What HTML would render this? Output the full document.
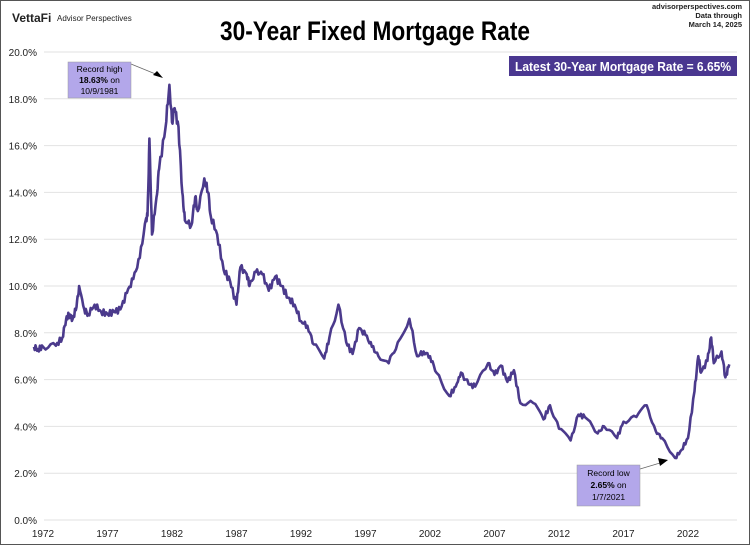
<!DOCTYPE html>
<html><head><meta charset="utf-8"><style>
body{margin:0;width:750px;height:545px;overflow:hidden;background:#fff;font-family:"Liberation Sans",Arial,sans-serif}
#f{position:absolute;left:0;top:0;width:748px;height:543px;border:1px solid #555}
</style></head><body><div id="f"></div>
<svg id="s" width="750" height="545" style="position:absolute;left:0;top:0" font-family="Liberation Sans, Arial, sans-serif">
<text x="12" y="22" font-size="12" font-weight="bold" fill="#222">VettaFi</text>
<text x="57" y="21" font-size="8" fill="#222">Advisor Perspectives</text>
<text x="220" y="40" font-size="27" font-weight="bold" textLength="310" lengthAdjust="spacingAndGlyphs" fill="#000">30-Year Fixed Mortgage Rate</text>
<text x="742" y="9" font-size="7.5" font-weight="bold" text-anchor="end" fill="#222">advisorperspectives.com</text>
<text x="742" y="18" font-size="7.5" font-weight="bold" text-anchor="end" fill="#222">Data through</text>
<text x="742" y="27" font-size="7.5" font-weight="bold" text-anchor="end" fill="#222">March 14, 2025</text>
<g id="grid"></g>
<rect x="509" y="56" width="228" height="20" fill="#4a3790"/>
<text x="515" y="71" font-size="12.5" font-weight="bold" fill="#fff" textLength="216" lengthAdjust="spacingAndGlyphs">Latest 30-Year Mortgage Rate = 6.65%</text>
<path id="ln" fill="none" stroke="#4b3a8c" stroke-width="2.6" stroke-linejoin="round"/>
<line x1="131" y1="64" x2="158" y2="75" stroke="#666" stroke-width="0.7"/>
<polygon points="163,78 153,75 157,71" fill="#000"/>
<rect x="68" y="62" width="63" height="36" fill="#b3a7ea" stroke="#999" stroke-width="0.5"/>
<text x="99.5" y="72" font-size="8.5" text-anchor="middle">Record high</text>
<text x="99.5" y="83" font-size="8.5" text-anchor="middle"><tspan font-weight="bold">18.63%</tspan> on</text>
<text x="99.5" y="94" font-size="8.5" text-anchor="middle">10/9/1981</text>
<line x1="640" y1="469" x2="660" y2="463" stroke="#666" stroke-width="0.7"/>
<polygon points="668,460 658,458 660,466" fill="#000"/>
<rect x="577" y="465" width="63" height="41" fill="#b3a7ea" stroke="#999" stroke-width="0.5"/>
<text x="608.5" y="476" font-size="8.5" text-anchor="middle">Record low</text>
<text x="608.5" y="488" font-size="8.5" text-anchor="middle"><tspan font-weight="bold">2.65%</tspan> on</text>
<text x="608.5" y="500" font-size="8.5" text-anchor="middle">1/7/2021</text>
</svg>
<script>
var X=y=>43+(y-1972)*12.9,Y=v=>520-23.4*v;
var g='';
for(var i=0;i<=10;i++){var yy=Y(i*2);g+='<line x1="44" x2="737" y1="'+yy+'" y2="'+yy+'" stroke="#e2e2e2" stroke-width="1"/>';
g+='<text x="37" y="'+(yy+4)+'" font-size="10" text-anchor="end" fill="#222">'+(i*2).toFixed(1)+'%</text>';}
for(var k=0;k<=10;k++){var yr=1972+5*k;g+='<text x="'+X(yr)+'" y="537" font-size="10" text-anchor="middle" fill="#222">'+yr+'</text>';}
document.getElementById('grid').innerHTML=g;
var d=[[1971.3,7.4],[1971.6,7.3],[1972,7.4],[1973,7.45],[1973.5,7.8],[1973.8,8.6],[1974,8.8],[1974.3,8.6],[1974.6,9.1],[1974.8,10],[1975.2,9.0],[1975.5,8.8],[1976,9.2],[1976.5,8.9],[1977,8.8],[1977.5,8.9],[1978,9.0],[1978.5,9.7],[1979,10.3],[1979.5,11.2],[1980,12.9],[1980.1,13],[1980.25,16.3],[1980.45,12.2],[1980.8,13.8],[1981,15.0],[1981.5,16.8],[1981.8,18.6],[1982,17.0],[1982.2,17.6],[1982.5,16.8],[1982.8,14.0],[1983,12.8],[1983.5,12.6],[1983.8,13.8],[1984,13.2],[1984.5,14.6],[1984.8,14.0],[1985,13.0],[1985.5,12.2],[1986,10.7],[1986.5,10.2],[1987,9.2],[1987.3,10.8],[1987.8,10.5],[1988,10.0],[1988.5,10.6],[1989,10.5],[1989.5,9.8],[1990,10.4],[1990.5,10.0],[1991,9.5],[1991.5,9.2],[1992,8.5],[1992.5,8.3],[1993,7.5],[1993.8,6.9],[1994.2,7.8],[1994.9,9.2],[1995.5,7.6],[1996,7.1],[1996.5,8.2],[1997,7.9],[1997.5,7.4],[1998,7.0],[1998.8,6.7],[1999.5,7.6],[2000.4,8.6],[2001,7.0],[2001.5,7.2],[2002,7.0],[2002.5,6.3],[2003.5,5.3],[2004,5.7],[2004.4,6.3],[2005,5.8],[2005.5,5.7],[2006.5,6.7],[2007,6.2],[2007.5,6.6],[2008,5.9],[2008.5,6.4],[2009,5.0],[2010,5.0],[2010.8,4.3],[2011.3,4.9],[2012,3.9],[2012.9,3.4],[2013.5,4.5],[2014,4.4],[2015,3.7],[2015.5,4.0],[2016.5,3.5],[2017,4.2],[2018,4.4],[2018.8,4.9],[2019.5,3.8],[2020,3.5],[2021,2.65],[2021.5,3.0],[2022,3.5],[2022.5,5.5],[2022.8,7.0],[2023,6.3],[2023.5,6.8],[2023.8,7.8],[2024,6.7],[2024.6,7.2],[2024.9,6.1],[2025.2,6.65]];
var p='';
for(var j=0;j<d.length-1;j++){var a=d[j],b=d[j+1];for(var t=0;t<1;t+=0.2){var yr=a[0]+(b[0]-a[0])*t,v=a[1]+(b[1]-a[1])*t;if(t>0)v+=0.12*Math.sin(yr*37)*Math.sqrt(v/7);p+=(p?'L':'M')+X(yr).toFixed(1)+','+Y(v).toFixed(1);}}
p+='L'+X(2025.2)+','+Y(6.65);
document.getElementById('ln').setAttribute('d',p);
</script>
</body></html>
